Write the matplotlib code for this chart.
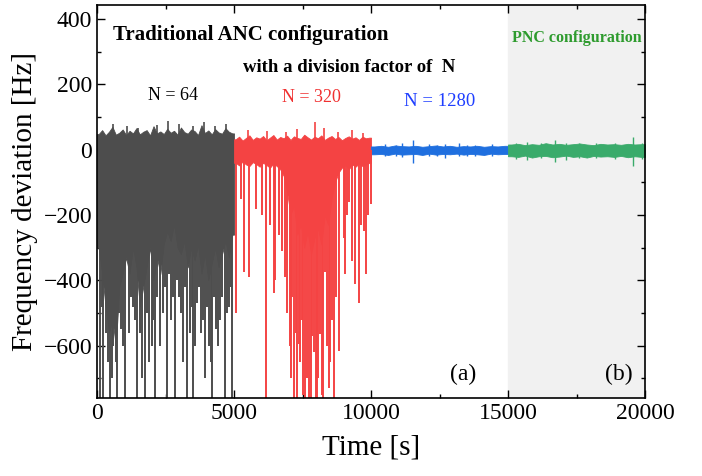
import numpy as np
import matplotlib
matplotlib.use("Agg")
import matplotlib.pyplot as plt

plt.rcParams['font.family'] = ['Liberation Serif', 'DejaVu Serif']

# --- data: dense body envelope per 125 s bin + single spikes ---
gray_hi = [48, 60, 44, 55, 70, 46, 52, 62, 45, 58, 50, 66, 47, 55, 60, 44, 72, 50, 56, 48,
           64, 52, 58, 46, 68, 54, 49, 62, 57, 45, 75, 51, 59, 47, 63, 53, 49, 66, 55, 50]
gray_lo = [-300, -380, -480, -560, -520, -600, -420, -380, -330, -380,
           -300, -360, -480, -420, -360, -300, -400, -330, -380, -290,
           -250, -280, -230, -300, -320, -280, -360, -300, -340, -290,
           -380, -320, -400, -350, -300, -360, -320, -280, -330, -260]
gray_spk_t = [110, 170, 220, 330, 400, 475, 540, 585, 680, 730, 800, 875, 950, 1020,
              1170, 1240, 1310, 1390, 1460, 1570, 1650, 1750, 1820, 1900, 2010, 2060,
              2120, 2200, 2300, 2410, 2470, 2555, 2630, 2700, 2780, 2850, 2920, 2990,
              3070, 3140, 3220, 3285, 3390, 3450, 3500, 3580, 3650, 3720, 3800, 3870,
              3940, 4030, 4090, 4150, 4200, 4270, 4340, 4420, 4490, 4560, 4670, 4750,
              4820, 4880, 4930]
gray_spk_v = [-800, -480, -800, -560, -650, -800, -700, -600, -650, -800, -500, -550,
              -600, -800, -560, -450, -480, -520, -800, -560, -700, -800, -500, -650,
              -600, -520, -800, -450, -600, -500, -420, -800, -380, -520, -450, -800,
              -400, -450, -500, -650, -420, -800, -560, -480, -800, -600, -470, -420,
              -560, -520, -700, -480, -600, -650, -800, -450, -550, -600, -520, -450,
              -800, -500, -480, -420, -800]
gray_up_t = [600, 1100, 1500, 2200, 2600, 3000, 3500, 3900, 4300, 4700]
gray_up_v = [78, 72, 68, 75, 88, 80, 72, 85, 74, 80]

red_hi = [32, 40, 28, 36, 44, 30, 38, 34, 42, 29, 37, 45, 31, 39, 35, 43, 30, 41, 36, 33,
          46, 38, 31, 40, 35, 44, 30, 37, 42, 33, 39, 29, 36, 41, 34, 38, 30, 40, 35, 37]
red_lo = [-40, -48, -36, -45, -50, -38, -44, -52, -40, -47, -55, -42, -50, -60,
          -80, -130, -200, -170, -260, -230, -300, -250, -320, -270, -240, -290,
          -200, -230, -150, -100, -70, -55, -48, -60, -45, -52, -42, -50, -46, -40]
red_spk_t = [5070, 5250, 5365, 5550, 5800, 6020, 6170, 6300, 6460, 6500, 6650, 6750,
             6860, 6950, 7030, 7080, 7130, 7190, 7250, 7300, 7370, 7420, 7470, 7520,
             7590, 7680, 7740, 7800, 7850, 7920, 7980, 8030, 8080, 8140, 8200, 8250,
             8320, 8400, 8470, 8500, 8560, 8650, 8720, 8830, 9010, 9050, 9120, 9200,
             9310, 9420, 9560, 9650, 9745, 9820, 9900, 10000]
red_spk_v = [-500, -150, -375, -390, -180, -200, -800, -230, -440, -400, -260, -310,
             -390, -500, -600, -700, -450, -800, -560, -800, -595, -650, -520, -750,
             -800, -700, -800, -800, -570, -620, -800, -800, -700, -565, -750, -800,
             -375, -600, -730, -650, -520, -800, -450, -615, -270, -380, -200, -160,
             -340, -410, -470, -230, -250, -380, -200, -165]
red_up_t = [5500, 6200, 6900, 7300, 7950, 8300, 8800, 9300, 9700]
red_up_v = [60, 58, 55, 62, 85, 65, 55, 60, 52]

blue_hi = [10, 12, 9, 13, 11, 10, 12, 9, 11, 13, 10, 12, 9, 11, 10, 12, 9, 11, 10, 12]
blue_lo = [-14, -13, -16, -12, -15, -14, -13, -16, -12, -15,
           -13, -14, -12, -15, -13, -14, -16, -12, -14, -13]
blue_spk_t = [10500, 10900, 11130, 11530, 12100, 12400, 12700, 13200, 13500, 13800, 14400]
blue_spk_hi = [16, 14, 22, 30, 18, 14, 16, 20, 15, 15, 16]
blue_spk_lo = [-18, -20, -22, -40, -20, -18, -24, -18, -20, -20, -18]

green_hi = [16, 18, 14, 17, 15, 20, 16, 18, 15, 17, 19, 16, 14, 18, 16, 17, 15, 18, 16, 17]
green_lo = [-20, -22, -18, -24, -20, -19, -23, -21, -18, -22,
            -20, -24, -19, -21, -20, -22, -19, -23, -20, -22]
green_spk_t = [15300, 15700, 16200, 16700, 17100, 17600, 18200, 18900, 19560, 19900]
green_spk_hi = [22, 25, 20, 30, 22, 20, 20, 22, 38, 20]
green_spk_lo = [-28, -30, -26, -38, -30, -26, -25, -28, -50, -28]

c_gray = '#4d4d4d'
c_red = '#f44343'
c_blue = '#1f6fdf'
c_green = '#3aab6b'

fig = plt.figure(figsize=(7.02, 4.76), dpi=100)
ax = fig.add_axes([97/702, 1-398/476, 548/702, 393/476])

ax.axvspan(15000, 20000, color='#f1f1f1', zorder=0)

segs = [(gray_hi, gray_lo, c_gray, 0), (red_hi, red_lo, c_red, 5000),
        (blue_hi, blue_lo, c_blue, 10000), (green_hi, green_lo, c_green, 15000)]
for hi, lo, c, t0 in segs:
    step = 5000 / len(hi)
    t = t0 + step / 2 + step * np.arange(len(hi))
    tt = np.r_[t0, t, t0 + 5000]
    ax.fill_between(tt, np.r_[lo[0], lo, lo[-1]], np.r_[hi[0], hi, hi[-1]],
                    color=c, lw=0.6, ec=c, zorder=2)

ax.vlines(gray_spk_t, 0, gray_spk_v, color=c_gray, lw=1.4, zorder=2)
ax.vlines(gray_up_t, 0, gray_up_v, color=c_gray, lw=1.2, zorder=2)
ax.vlines(red_spk_t, 0, red_spk_v, color=c_red, lw=1.4, zorder=2)
ax.vlines(red_up_t, 0, red_up_v, color=c_red, lw=1.2, zorder=2)
ax.vlines(blue_spk_t, blue_spk_lo, blue_spk_hi, color=c_blue, lw=1.0, zorder=3)
ax.vlines(green_spk_t, green_spk_lo, green_spk_hi, color=c_green, lw=1.0, zorder=3)

ax.set_xlim(0, 20000)
ax.set_ylim(-760, 443)
ax.set_xticks([0, 5000, 10000, 15000, 20000])
ax.set_xticks([2500, 7500, 12500, 17500], minor=True)
ax.set_yticks([-600, -400, -200, 0, 200, 400])
ax.set_yticks(np.arange(-700, 441, 100), minor=True)
ax.tick_params(which='both', direction='in', top=True, right=True, labelsize=17, width=1)
ax.tick_params(which='major', length=6)
ax.tick_params(which='minor', length=3)
for s in ax.spines.values():
    s.set_linewidth(1.2)

ax.set_xlabel('Time [s]', fontsize=21, labelpad=8)
ax.set_ylabel('Frequency deviation [Hz]', fontsize=21, labelpad=4)

ax.text(584, 351, 'Traditional ANC configuration', fontsize=15, fontweight='bold', va='center')
ax.text(5330, 253, 'with a division factor of  N', fontsize=13.5, fontweight='bold', va='center')
ax.text(15150, 342, 'PNC configuration', fontsize=11.5, fontweight='bold', color='#2e9b2e', va='center')
ax.text(2775, 165, 'N = 64', fontsize=13, ha='center', va='center')
ax.text(7810, 161, 'N = 320', fontsize=13, ha='center', va='center', color='#f03030')
ax.text(12520, 149, 'N = 1280', fontsize=13.5, ha='center', va='center', color='#1f3fff')
ax.text(13360, -689, '(a)', fontsize=17, ha='center', va='center')
ax.text(19050, -689, '(b)', fontsize=17, ha='center', va='center')

fig.savefig('out.png', dpi=100)
